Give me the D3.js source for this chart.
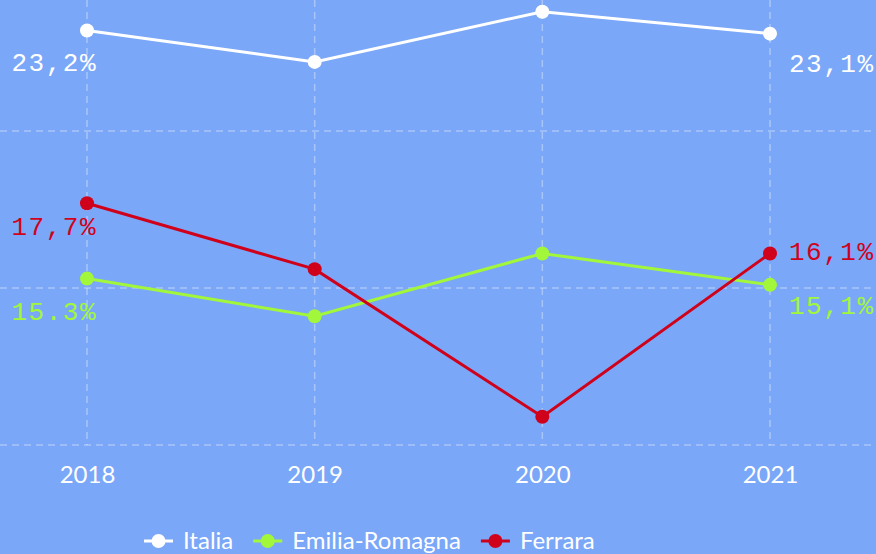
<!DOCTYPE html>
<html>
<head>
<meta charset="utf-8">
<script src="https://cdn.jsdelivr.net/npm/d3@7"></script>
<style>
  html, body { margin: 0; padding: 0; background: #7aa7f7; }
  svg { display: block; }
  .grid line { stroke: rgba(255,255,255,0.35); stroke-width: 1.5; stroke-dasharray: 7,5; }
  .lbl { font-family: "Liberation Mono", monospace; font-size: 26px; letter-spacing: 1.5px; }
  .axis text { font-family: Lato, sans-serif; font-size: 24px; fill: #fff; }
  .legend text { font-family: Lato, sans-serif; font-size: 24px; fill: #fff; }
</style>
</head>
<body>
<svg width="876" height="554"></svg>
<script>
const years = ["2018", "2019", "2020", "2021"]
const italia = [23.2, 22.2, 23.8, 23.1]
const emilia = [15.3, 14.1, 16.1, 15.1]
const ferrara = [17.7, 15.6, 10.9, 16.1]
const seriesNames = ["Italia", "Emilia-Romagna", "Ferrara"]
const seriesColors = ["#ffffff", "#a3f73a", "#d0021b"]
// end labels: [first, last]
const italiaLabels = ["23,2%", "23,1%"]
const emiliaLabels = ["15.3%", "15,1%"]
const ferraraLabels = ["17,7%", "16,1%"]
const gridValues = [10, 15, 20, 25]

const series = [
	{name: seriesNames[0], color: seriesColors[0], values: italia, labels: italiaLabels, dy: [40, 38]},
	{name: seriesNames[1], color: seriesColors[1], values: emilia, labels: emiliaLabels, dy: [41, 29]},
	{name: seriesNames[2], color: seriesColors[2], values: ferrara, labels: ferraraLabels, dy: [32, 7]}
]

const svg = d3.select("svg")

const x = d3.scalePoint().domain(years).range([87, 770])
const y = d3.scaleLinear().domain([10, 25]).range([445, -26])

// grid
const grid = svg.append("g").attr("class", "grid")
grid.selectAll("line.h")
	.data(gridValues)
	.enter().append("line")
	.attr("class", "h")
	.attr("x1", 0).attr("x2", 876)
	.attr("y1", d => y(d)).attr("y2", d => y(d))
grid.selectAll("line.v")
	.data(years)
	.enter().append("line")
	.attr("class", "v")
	.attr("x1", d => x(d)).attr("x2", d => x(d))
	.attr("y1", 0).attr("y2", y(10))

// x axis
const axis = svg.append("g")
	.attr("class", "axis")
	.attr("transform", `translate(0,${y(10)})`)
	.call(d3.axisBottom(x).tickSize(0).tickPadding(21))
axis.select(".domain").remove()

const line = d3.line()
	.x((d, i) => x(years[i]))
	.y(d => y(d))

series.forEach(s => {
	const g = svg.append("g")
	g.append("path")
		.attr("d", line(s.values))
		.attr("fill", "none")
		.attr("stroke", s.color)
		.attr("stroke-width", 3)
	g.selectAll("circle")
		.data(s.values)
		.enter().append("circle")
		.attr("cx", (d, i) => x(years[i]))
		.attr("cy", d => y(d))
		.attr("r", 7)
		.attr("fill", s.color)

	const last = s.values.length - 1
	g.append("text")
		.attr("class", "lbl")
		.attr("x", x(years[0]) + 10)
		.attr("y", y(s.values[0]) + s.dy[0])
		.attr("text-anchor", "end")
		.attr("fill", s.color)
		.text(s.labels[0])
	g.append("text")
		.attr("class", "lbl")
		.attr("x", x(years[last]) + 19)
		.attr("y", y(s.values[last]) + s.dy[1])
		.attr("fill", s.color)
		.text(s.labels[1])
})

// legend
const legend = svg.append("g").attr("class", "legend").attr("transform", "translate(0,541)")
let lx = 144
series.forEach(s => {
	const item = legend.append("g").attr("transform", `translate(${lx},0)`)
	item.append("line")
		.attr("x1", 0).attr("x2", 29)
		.attr("stroke", s.color).attr("stroke-width", 3)
	item.append("circle").attr("cx", 14.5).attr("r", 7).attr("fill", s.color)
	const t = item.append("text")
		.attr("x", 39).attr("dy", "0.35em")
		.text(s.name)
	lx += 39 + t.node().getComputedTextLength() + 20
})
</script>
</body>
</html>
